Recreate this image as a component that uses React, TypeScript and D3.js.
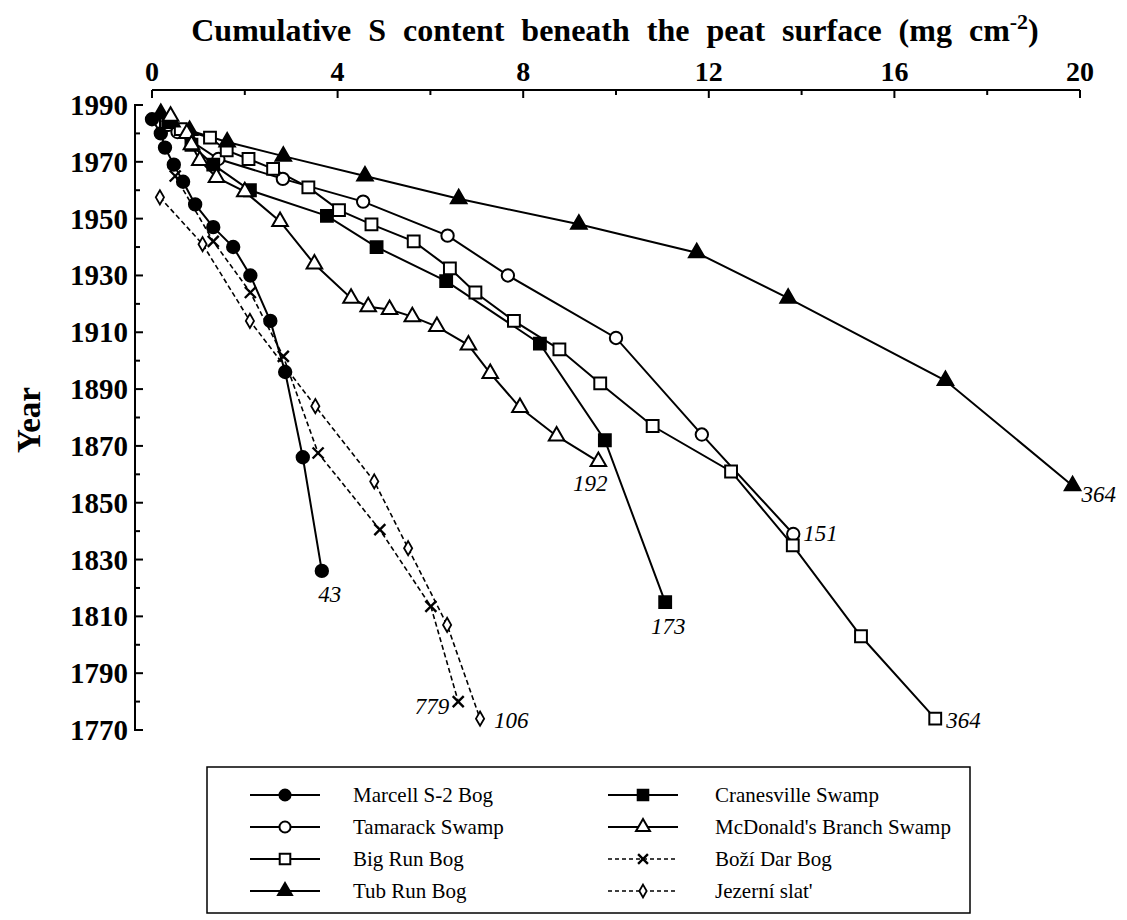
import React from "react";
import { scaleLinear, line, symbol, symbolCircle, symbolSquare, symbolTriangle, symbolDiamond, range } from "d3";

// cumulative S (mg cm-2) and year, one pair of arrays per site
const marcellS = [0, 0.19, 0.28, 0.47, 0.67, 0.93, 1.32, 1.75, 2.12, 2.55, 2.87, 3.25, 3.66];
const marcellYr = [1985, 1980, 1975, 1969, 1963, 1955, 1947, 1940, 1930, 1914, 1896, 1866, 1826];

const tamarackS = [0.35, 0.55, 1.43, 2.82, 4.55, 6.37, 7.67, 10.0, 11.85, 13.82];
const tamarackYr = [1983, 1980.5, 1971, 1964, 1956, 1944, 1930, 1908, 1874, 1839];

const bigRunS = [0.3, 0.62, 1.25, 1.61, 2.08, 2.61, 3.37, 4.03, 4.73, 5.64, 6.42, 6.97, 7.8, 8.78, 9.66, 10.79, 12.48, 13.81, 15.28, 16.88];
const bigRunYr = [1984, 1981.5, 1978.5, 1974, 1971, 1967.5, 1961, 1953, 1948, 1942, 1932.5, 1924, 1914, 1904, 1892, 1877, 1861, 1835, 1803, 1774];

const tubRunS = [0.19, 0.43, 0.81, 1.62, 2.83, 4.59, 6.61, 9.2, 11.74, 13.71, 17.1, 19.84];
const tubRunYr = [1987, 1984, 1981, 1977, 1972, 1965, 1957, 1948, 1938, 1922, 1893, 1856];

const cranesS = [0.35, 0.85, 1.32, 2.11, 3.77, 4.84, 6.34, 8.36, 9.76, 11.06];
const cranesYr = [1984, 1976, 1969, 1960, 1951, 1940, 1928, 1906, 1872, 1815];

const mcdonaldS = [0.4, 0.75, 0.85, 1.03, 1.39, 2.0, 2.76, 3.5, 4.29, 4.66, 5.12, 5.61, 6.14, 6.82, 7.29, 7.93, 8.72, 9.62];
const mcdonaldYr = [1986, 1980, 1976, 1970.5, 1964.5, 1959.5, 1949, 1934, 1922, 1919, 1918, 1915.5, 1912, 1905.5, 1895.5, 1883.5, 1873.5, 1864.5];

const boziDarS = [0.5, 1.32, 2.12, 2.83, 3.58, 4.91, 6.01, 6.6];
const boziDarYr = [1965, 1942, 1924, 1901.5, 1867.5, 1840.5, 1813.5, 1780];

const jezerniS = [0.17, 1.09, 2.11, 3.52, 4.79, 5.52, 6.36, 7.07];
const jezerniYr = [1957.5, 1941, 1914, 1884, 1857.5, 1834, 1807, 1774];

const siteNames = [
  "Marcell S-2 Bog",
  "Tamarack Swamp",
  "Big Run Bog",
  "Tub Run Bog",
  "Cranesville Swamp",
  "McDonald's Branch Swamp",
  "Boží Dar Bog",
  "Jezerní slat'",
];
const endLabels = ["43", "151", "364", "364", "173", "192", "779", "106"];

const xTicks = [0, 4, 8, 12, 16, 20];
const yTicks = [1990, 1970, 1950, 1930, 1910, 1890, 1870, 1850, 1830, 1810, 1790, 1770];

type Marker = "circle" | "square" | "triangle" | "diamond" | "x";

interface Series {
  name: string;
  s: number[];
  yr: number[];
  marker: Marker;
  filled: boolean;
  dashed: boolean;
  label: string;
  anchor: "start" | "middle" | "end";
  dx: number;
  dy: number;
}

const series: Series[] = [
  { name: siteNames[0], s: marcellS, yr: marcellYr, marker: "circle", filled: true, dashed: false, label: endLabels[0], anchor: "middle", dx: 8, dy: 31 },
  { name: siteNames[1], s: tamarackS, yr: tamarackYr, marker: "circle", filled: false, dashed: false, label: endLabels[1], anchor: "start", dx: 10, dy: 7 },
  { name: siteNames[2], s: bigRunS, yr: bigRunYr, marker: "square", filled: false, dashed: false, label: endLabels[2], anchor: "start", dx: 11, dy: 9 },
  { name: siteNames[3], s: tubRunS, yr: tubRunYr, marker: "triangle", filled: true, dashed: false, label: endLabels[3], anchor: "start", dx: 9, dy: 16 },
  { name: siteNames[4], s: cranesS, yr: cranesYr, marker: "square", filled: true, dashed: false, label: endLabels[4], anchor: "middle", dx: 3, dy: 32 },
  { name: siteNames[5], s: mcdonaldS, yr: mcdonaldYr, marker: "triangle", filled: false, dashed: false, label: endLabels[5], anchor: "middle", dx: -8, dy: 29 },
  { name: siteNames[6], s: boziDarS, yr: boziDarYr, marker: "x", filled: false, dashed: true, label: endLabels[6], anchor: "end", dx: -9, dy: 12 },
  { name: siteNames[7], s: jezerniS, yr: jezerniYr, marker: "diamond", filled: false, dashed: true, label: endLabels[7], anchor: "start", dx: 14, dy: 9 },
];

const W = 1127;
const H = 920;
const FONT = "'Liberation Serif', 'Times New Roman', serif";

const x = scaleLinear().domain([0, 20]).range([152, 1080]);
const y = scaleLinear().domain([1770, 1990]).range([730, 105]);

const symbolPath = (m: Marker, scale: number) => {
  if (m === "circle") return symbol(symbolCircle, 120 * scale)()!;
  if (m === "square") return symbol(symbolSquare, 140 * scale)()!;
  if (m === "triangle") return symbol(symbolTriangle, 105 * scale)()!;
  return symbol(symbolDiamond, 58 * scale)()!;
};

const MarkerShape = ({
  m,
  filled,
  cx,
  cy,
  scale = 1,
}: {
  m: Marker;
  filled: boolean;
  cx: number;
  cy: number;
  scale?: number;
}) => {
  if (m === "x") {
    const r = 5.5 * Math.sqrt(scale);
    return (
      <g transform={`translate(${cx},${cy})`} stroke="#000" strokeWidth={2.4}>
        <line x1={-r} y1={-r} x2={r} y2={r} />
        <line x1={-r} y1={r} x2={r} y2={-r} />
      </g>
    );
  }
  return (
    <path
      d={symbolPath(m, scale)}
      transform={`translate(${cx},${cy})`}
      fill={filled ? "#000" : "#fff"}
      stroke="#000"
      strokeWidth={m === "diamond" ? 1.8 : 2}
    />
  );
};

const App = () => {
  const pathFor = (sr: Series) =>
    line<number>()
      .x((d) => x(d))
      .y((_, i) => y(sr.yr[i]))(sr.s)!;

  const minorX = range(2, 20, 4);
  const minorY = range(1780, 1990, 20);

  // legend layout
  const legTop = 795;
  const legStep = 32;

  return (
    <svg
      width={W}
      height={H}
      viewBox={`0 0 ${W} ${H}`}
      style={{ position: "absolute", left: 0, top: 0, background: "#fff" }}
      fontFamily={FONT}
    >
      <rect width={W} height={H} fill="#fff" />

      {/* title */}
      <text x={615} y={41} textAnchor="middle" fontSize={32} fontWeight="bold" style={{ wordSpacing: "9px" }}>
        Cumulative S content beneath the peat surface (mg cm
        <tspan dy={-12} fontSize={22}>-2</tspan>
        <tspan dy={12}>)</tspan>
      </text>

      {/* top x axis */}
      <g stroke="#000" strokeWidth={2}>
        <line x1={x(0)} x2={x(20)} y1={90} y2={90} />
        {xTicks.map((t) => (
          <line key={t} x1={x(t)} x2={x(t)} y1={90} y2={98} />
        ))}
        {minorX.map((t) => (
          <line key={t} x1={x(t)} x2={x(t)} y1={90} y2={95} />
        ))}
      </g>
      {xTicks.map((t) => (
        <text key={t} x={x(t)} y={81} textAnchor="middle" fontSize={28} fontWeight="bold">
          {t}
        </text>
      ))}

      {/* left y axis */}
      <g stroke="#000" strokeWidth={2}>
        <line x1={135} x2={135} y1={y(1990)} y2={y(1770)} />
        {yTicks.map((t) => (
          <line key={t} x1={134} x2={143} y1={y(t)} y2={y(t)} />
        ))}
        {minorY.map((t) => (
          <line key={t} x1={134} x2={140} y1={y(t)} y2={y(t)} />
        ))}
      </g>
      {yTicks.map((t) => (
        <text key={t} x={128} y={y(t) + 10} textAnchor="end" fontSize={29} fontWeight="bold">
          {t}
        </text>
      ))}
      <text
        transform={`translate(40,420) rotate(-90)`}
        textAnchor="middle"
        fontSize={33}
        fontWeight="bold"
      >
        Year
      </text>

      {/* series lines */}
      {series.map((sr) => (
        <path
          key={sr.name}
          d={pathFor(sr)}
          fill="none"
          stroke="#000"
          strokeWidth={sr.dashed ? 1.6 : 2}
          strokeDasharray={sr.dashed ? "5,3" : undefined}
        />
      ))}

      {/* markers */}
      {series.map((sr) => (
        <g key={sr.name}>
          {sr.s.map((v, i) => (
            <MarkerShape key={i} m={sr.marker} filled={sr.filled} cx={x(v)} cy={y(sr.yr[i])} />
          ))}
        </g>
      ))}

      {/* end labels */}
      {series.map((sr) => {
        const n = sr.s.length - 1;
        return (
          <text
            key={sr.name}
            x={x(sr.s[n]) + sr.dx}
            y={y(sr.yr[n]) + sr.dy}
            textAnchor={sr.anchor}
            fontSize={23}
            fontStyle="italic"
          >
            {sr.label}
          </text>
        );
      })}

      {/* legend */}
      <rect x={207} y={767} width={763} height={146} fill="none" stroke="#000" strokeWidth={1.5} />
      {series.map((sr, i) => {
        const col = i < 4 ? 0 : 1;
        const row = i % 4;
        const lx0 = col === 0 ? 250 : 608;
        const lx1 = lx0 + 70;
        const ly = legTop + row * legStep;
        return (
          <g key={sr.name}>
            <line
              x1={lx0}
              x2={lx1}
              y1={ly}
              y2={ly}
              stroke="#000"
              strokeWidth={sr.dashed ? 1.6 : 2}
              strokeDasharray={sr.dashed ? "4,3" : undefined}
            />
            <MarkerShape m={sr.marker} filled={sr.filled} cx={(lx0 + lx1) / 2} cy={ly} scale={0.8} />
            <text x={col === 0 ? 353 : 715} y={ly + 7} fontSize={21}>
              {sr.name}
            </text>
          </g>
        );
      })}
    </svg>
  );
};

export default App;
